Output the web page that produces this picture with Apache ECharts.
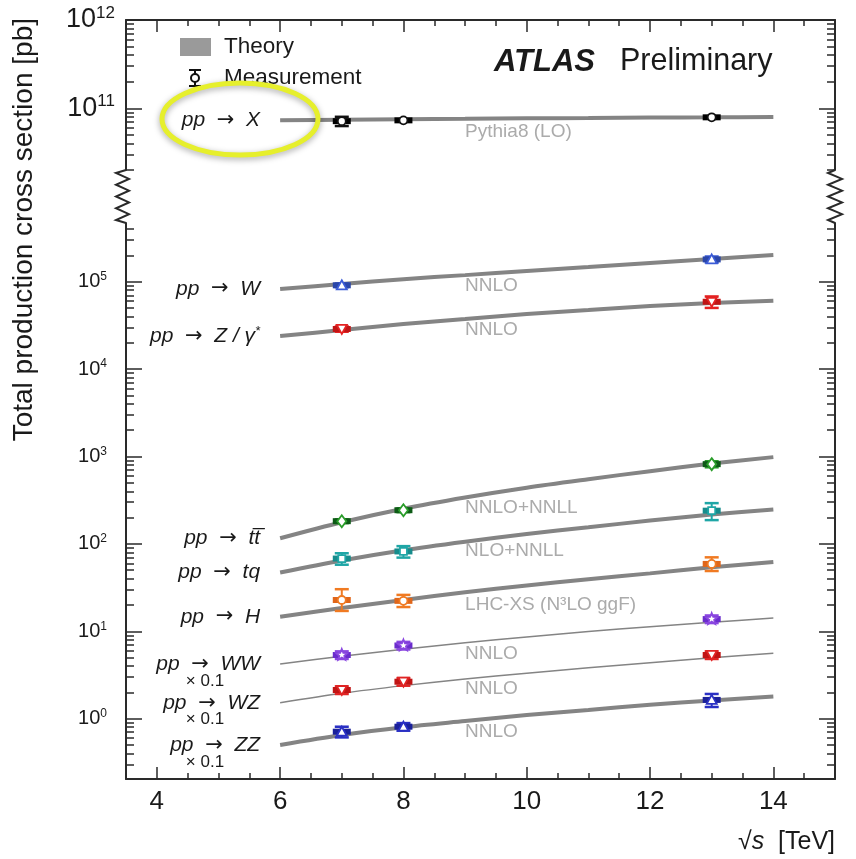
<!DOCTYPE html>
<html>
<head>
<meta charset="utf-8">
<script src="https://cdn.jsdelivr.net/npm/echarts@6/dist/echarts.min.js"></script>
<style>
  html, body { margin: 0; padding: 0; background: #fff; }
  #chart { width: 856px; height: 859px; }
</style>
</head>
<body>
<div id="chart"></div>
<script>
// sqrt(s) in TeV
const theoryEnergies = [6, 7, 8, 9, 10, 11, 12, 13, 14]
const measEnergies = [7, 8, 13]
const xTickValues = [4, 6, 8, 10, 12, 14]
const upperDecades = [11, 12]
const lowerDecades = [0, 1, 2, 3, 4, 5]

// cross sections in pb (WW, WZ, ZZ already scaled by 0.1)
const xTheory = [7.3e10, 7.4e10, 7.5e10, 7.6e10, 7.7e10, 7.75e10, 7.85e10, 7.9e10, 7.96e10]
const xMeas = [7.15e10, 7.3e10, 7.9e10]
const xErr = [0.12, 0.03, 0.03]

const wTheory = [8.25e4, 9.4e4, 1.07e5, 1.19e5, 1.33e5, 1.47e5, 1.64e5, 1.82e5, 2.02e5]
const wMeas = [9.1e4, null, 1.8e5]
const wErr = [0.05, null, 0.08]

const zTheory = [2.39e4, 2.8e4, 3.28e4, 3.74e4, 4.27e4, 4.74e4, 5.27e4, 5.71e4, 6.07e4]
const zMeas = [2.88e4, null, 5.9e4]
const zErr = [0.07, null, 0.15]

const ttTheory = [116, 177, 253, 340, 440, 550, 680, 832, 984]
const ttMeas = [182, 243, 818]
const ttErr = [0.05, 0.05, 0.08]

const tqTheory = [47, 64.6, 84.7, 106, 130, 155, 185, 217, 248]
const tqMeas = [68, 82, 240]
const tqErr = [0.15, 0.15, 0.22]

const hTheory = [14.7, 18.5, 22.8, 28, 33.5, 39.5, 46, 54, 62]
const hMeas = [22.8, 22.3, 59]
const hErrUp = [0.33, 0.17, 0.19]
const hErrDown = [0.25, 0.15, 0.17]

const wwTheory = [4.23, 5.18, 6.24, 7.4, 8.63, 9.93, 11.3, 12.7, 14.2]
const wwMeas = [5.36, 6.88, 13.8]
const wwErr = [0.1, 0.1, 0.1]

const wzTheory = [1.52, 1.95, 2.39, 2.85, 3.32, 3.82, 4.37, 4.98, 5.6]
const wzMeas = [2.13, 2.65, 5.36]
const wzErr = [0.1, 0.1, 0.1]

const zzTheory = [0.5, 0.65, 0.8, 0.94, 1.1, 1.26, 1.44, 1.62, 1.79]
const zzMeas = [0.71, 0.81, 1.64]
const zzErr = [0.14, 0.1, 0.17]

const FONT = '"Liberation Sans", Arial, Helvetica, sans-serif'
const INK = '#1a1a1a'
const THEORY_GREY = '#848484'

const processes = [
  { label: '{p|pp  }{a|→}{p|  X}', note: 'Pythia8 (LO)', theory: xTheory, meas: xMeas, up: xErr, down: xErr,
    color: '#111111', band: '#000000', marker: 'circle', upper: true, width: 4, noteGap: 3 },
  { label: '{p|pp  }{a|→}{p|  W}', note: 'NNLO', theory: wTheory, meas: wMeas, up: wErr, down: wErr,
    color: '#3b5bd6', band: '#2a46a8', marker: 'triUp', width: 4, noteGap: 1 },
  { label: '{p|pp  }{a|→}{p|  Z / γ}{sup|*}', note: 'NNLO', theory: zTheory, meas: zMeas, up: zErr, down: zErr,
    color: '#e42222', band: '#c01515', marker: 'triDown', width: 4, noteGap: 1 },
  { label: '{p|pp  }{a|→}{p|  tt\u0305}', note: 'NNLO+NNLL', theory: ttTheory, meas: ttMeas, up: ttErr, down: ttErr,
    color: '#2a9d2a', band: '#0d5a16', marker: 'diamond', width: 4, noteGap: 1 },
  { label: '{p|pp  }{a|→}{p|  tq}', note: 'NLO+NNLL', theory: tqTheory, meas: tqMeas, up: tqErr, down: tqErr,
    color: '#1fa6a6', band: '#168c8c', marker: 'square', width: 4, noteGap: 0 },
  { label: '{p|pp  }{a|→}{p|  H}', note: 'LHC-XS (N³LO ggF)', theory: hTheory, meas: hMeas, up: hErrUp, down: hErrDown,
    color: '#f07a22', band: '#e0661a', marker: 'circle', width: 4, noteGap: 3 },
  { label: '{p|pp  }{a|→}{p|  WW}\n{m|× 0.1}', note: 'NNLO', theory: wwTheory, meas: wwMeas, up: wwErr, down: wwErr,
    color: '#8a46e0', band: '#6a2ccc', marker: 'star', width: 1.5, noteGap: 2, twoLine: true },
  { label: '{p|pp  }{a|→}{p|  WZ}\n{m|× 0.1}', note: 'NNLO', theory: wzTheory, meas: wzMeas, up: wzErr, down: wzErr,
    color: '#e02424', band: '#c01515', marker: 'triDown', width: 1.5, noteGap: 0, twoLine: true },
  { label: '{p|pp  }{a|→}{p|  ZZ}\n{m|× 0.1}', note: 'NNLO', theory: zzTheory, meas: zzMeas, up: zzErr, down: zzErr,
    color: '#2a30c4', band: '#1a209a', marker: 'triUp', width: 4, noteGap: 1, twoLine: true }
]

const labelRich = {
  p: { fontSize: 21, fontStyle: 'italic', fontFamily: FONT, color: INK, lineHeight: 20 },
  a: { fontSize: 21, fontFamily: '"DejaVu Sans", sans-serif', color: INK, lineHeight: 20 },
  sup: { fontSize: 13, fontStyle: 'italic', fontFamily: FONT, color: INK, padding: [0, 0, 10, 0] },
  m: { fontSize: 17, fontFamily: FONT, color: INK, lineHeight: 13, padding: [0, 36, 0, 0] }
}

function markerShape(kind, cx, cy, color) {
  const style = { fill: '#ffffff', stroke: color, lineWidth: 1.8 }
  if (kind === 'circle') return { type: 'circle', shape: { cx, cy, r: 4 }, style }
  if (kind === 'square') return { type: 'rect', shape: { x: cx - 3.5, y: cy - 3.5, width: 7, height: 7 }, style }
  let pts
  if (kind === 'triUp') pts = [[cx, cy - 5], [cx + 5, cy + 4], [cx - 5, cy + 4]]
  else if (kind === 'triDown') pts = [[cx, cy + 5], [cx + 5, cy - 4], [cx - 5, cy - 4]]
  else if (kind === 'diamond') pts = [[cx, cy - 6], [cx + 4.5, cy], [cx, cy + 6], [cx - 4.5, cy]]
  else {
    pts = []
    for (let k = 0; k < 10; k++) {
      const r = k % 2 ? 2.6 : 6
      const a = -Math.PI / 2 + k * Math.PI / 5
      pts.push([cx + r * Math.cos(a), cy + r * Math.sin(a)])
    }
  }
  return { type: 'polygon', shape: { points: pts }, style }
}

function renderMeasurement(p) {
  return function (params, api) {
    const e = api.value(0)
    const c = api.coord([e, api.value(1)])
    const hi = api.coord([e, api.value(2)])
    const lo = api.coord([e, api.value(3)])
    const capW = 7
    const seg = (x1, y1, x2, y2, w) => ({
      type: 'line', shape: { x1, y1, x2, y2 }, style: { stroke: p.color, lineWidth: w }
    })
    return {
      type: 'group',
      children: [
        seg(c[0], hi[1], c[0], lo[1], 2),
        seg(c[0] - capW, hi[1], c[0] + capW, hi[1], 2.5),
        seg(c[0] - capW, lo[1], c[0] + capW, lo[1], 2.5),
        { type: 'rect', shape: { x: c[0] - 9, y: c[1] - 3, width: 18, height: 6 }, style: { fill: p.band } },
        markerShape(p.marker, c[0], c[1], p.color)
      ]
    }
  }
}

const series = []
processes.forEach(p => {
  const xi = p.upper ? 0 : 2
  const yi = p.upper ? 0 : 4
  series.push({
    type: 'line',
    xAxisIndex: xi,
    yAxisIndex: yi,
    smooth: 0.3,
    symbol: 'circle',
    symbolSize: 0,
    showSymbol: true,
    z: 2,
    lineStyle: { color: THEORY_GREY, width: p.width },
    itemStyle: { color: THEORY_GREY },
    emphasis: { disabled: true },
    data: theoryEnergies.map((e, i) => {
      const item = { value: [e, Math.log10(p.theory[i])] }
      if (i === 0) {
        item.label = {
          show: true, position: 'left', distance: 20,
          formatter: p.label, rich: labelRich,
          offset: p.twoLine ? [0, 7] : [0, 0]
        }
      } else if (e === 9) {
        item.label = {
          show: true, position: 'bottom', align: 'left', distance: p.noteGap,
          formatter: p.note, color: '#ababab', fontSize: 19, fontFamily: FONT
        }
      }
      return item
    })
  })
  const pts = []
  measEnergies.forEach((e, i) => {
    const v = p.meas[i]
    if (v == null) return
    pts.push([e, Math.log10(v), Math.log10(v * (1 + p.up[i])), Math.log10(v * (1 - p.down[i]))])
  })
  series.push({
    type: 'custom',
    xAxisIndex: xi,
    yAxisIndex: yi,
    z: 5,
    renderItem: renderMeasurement(p),
    encode: { x: 0, y: 1 },
    data: pts
  })
})

// ticks
const xMinorTicks = []
for (let v = 3.5; v <= 15; v += 0.5) if (v % 2 !== 0) xMinorTicks.push(v)
function minorLogTicks(fromExp, toExp) {
  const out = []
  for (let n = fromExp; n <= toExp; n++) {
    for (let k = 2; k <= 9; k++) out.push(Math.log10(k) + n)
  }
  return out
}

const frameLine = { show: true, onZero: false, lineStyle: { color: '#2a2a2a', width: 2 } }
const tickStyle = { color: '#2a2a2a', width: 1.5 }

function xAxisPair(gridIndex, position, withLabels) {
  return [
    {
      type: 'value', gridIndex, position, min: 3.5, max: 15,
      axisLine: frameLine,
      axisTick: { inside: true, length: 12, customValues: xTickValues, lineStyle: tickStyle },
      axisLabel: {
        show: withLabels, customValues: xTickValues, margin: 10,
        fontSize: 26, fontFamily: FONT, color: INK
      },
      splitLine: { show: false }
    },
    {
      type: 'value', gridIndex, position, min: 3.5, max: 15,
      axisLine: { show: false, onZero: false },
      axisTick: { inside: true, length: 6, customValues: xMinorTicks, lineStyle: tickStyle },
      axisLabel: { show: false, customValues: xMinorTicks },
      splitLine: { show: false }
    }
  ]
}

function yAxisPair(gridIndex, position, min, max, decades, minors, labelCfg) {
  return [
    {
      type: 'value', gridIndex, position, min, max,
      axisLine: frameLine,
      axisTick: { inside: true, length: 16, customValues: decades, lineStyle: tickStyle },
      axisLabel: labelCfg
        ? Object.assign({ show: true, customValues: decades, showMaxLabel: true, showMinLabel: true }, labelCfg)
        : { show: false, customValues: decades },
      splitLine: { show: false }
    },
    {
      type: 'value', gridIndex, position, min, max,
      axisLine: { show: false, onZero: false },
      axisTick: { inside: true, length: 8, customValues: minors, lineStyle: tickStyle },
      axisLabel: { show: false, customValues: minors },
      splitLine: { show: false }
    }
  ]
}

function powerLabel(base, sup, pad, margin) {
  return {
    margin,
    formatter: v => '{b|10}{s|' + Math.round(v) + '}',
    rich: {
      b: { fontSize: base, fontFamily: FONT, color: INK },
      s: { fontSize: sup, fontFamily: FONT, color: INK, padding: [0, 0, pad, 0] }
    }
  }
}

const upperMin = Math.log10(2e10)
const upperMax = 12
const lowerMin = -0.69
const lowerMax = 5.672

const xAxes = [].concat(
  xAxisPair(0, 'top', false),
  xAxisPair(1, 'bottom', true)
)
const yAxes = [].concat(
  yAxisPair(0, 'left', upperMin, upperMax, upperDecades, minorLogTicks(10, 11), powerLabel(27, 17, 14, 11)),
  yAxisPair(0, 'right', upperMin, upperMax, upperDecades, minorLogTicks(10, 11), null),
  yAxisPair(1, 'left', lowerMin, lowerMax, lowerDecades, minorLogTicks(-1, 5), powerLabel(20, 12, 10, 19)),
  yAxisPair(1, 'right', lowerMin, lowerMax, lowerDecades, minorLogTicks(-1, 5), null)
)

// axis break zigzags
function zigzag(x0, left, right) {
  const pts = [[x0, 170]]
  const steps = 10
  for (let k = 1; k < steps; k++) {
    pts.push([x0 + (k % 2 ? -left : right), 170 + 3 + (k - 1) * (47 / (steps - 2))])
  }
  pts.push([x0, 223])
  return pts
}

const graphics = [
  {
    type: 'polyline', shape: { points: zigzag(126, 10, 3) },
    style: { stroke: '#2a2a2a', lineWidth: 2, fill: null }
  },
  {
    type: 'polyline', shape: { points: zigzag(835, 7, 7) },
    style: { stroke: '#2a2a2a', lineWidth: 2, fill: null }
  },
  {
    type: 'text', x: 24, y: 18, rotation: Math.PI / 2,
    style: {
      text: 'Total production cross section [pb]', align: 'right', verticalAlign: 'middle',
      fontSize: 28, fontFamily: FONT, fill: INK
    }
  },
  {
    type: 'text', x: 835, y: 842,
    style: {
      text: '{i|√}{s|s}{n|  [TeV]}', align: 'right', verticalAlign: 'middle',
      rich: {
        i: { fontSize: 25, fontFamily: FONT, fill: INK },
        s: { fontSize: 25, fontStyle: 'italic', fontFamily: FONT, fill: INK },
        n: { fontSize: 25, fontFamily: FONT, fill: INK }
      }
    }
  },
  {
    type: 'text', x: 494, y: 62,
    style: { text: 'ATLAS', fontSize: 31, fontWeight: 'bold', fontStyle: 'italic', fontFamily: FONT, fill: INK, verticalAlign: 'middle' }
  },
  {
    type: 'text', x: 620, y: 62,
    style: { text: 'Preliminary', fontSize: 30.5, fontFamily: FONT, fill: INK, verticalAlign: 'middle' }
  },
  // legend
  { type: 'rect', shape: { x: 180, y: 38, width: 31, height: 18 }, style: { fill: '#9a9a9a' } },
  {
    type: 'text', x: 224, y: 47,
    style: { text: 'Theory', fontSize: 22.5, fontFamily: FONT, fill: INK, verticalAlign: 'middle' }
  },
  { type: 'line', shape: { x1: 195, y1: 70, x2: 195, y2: 86 }, style: { stroke: '#111', lineWidth: 2 } },
  { type: 'line', shape: { x1: 189, y1: 70, x2: 201, y2: 70 }, style: { stroke: '#111', lineWidth: 2 } },
  { type: 'line', shape: { x1: 189, y1: 86, x2: 201, y2: 86 }, style: { stroke: '#111', lineWidth: 2 } },
  { type: 'circle', shape: { cx: 195, cy: 78, r: 4 }, style: { fill: '#fff', stroke: '#111', lineWidth: 2 } },
  {
    type: 'text', x: 224, y: 78,
    style: { text: 'Measurement', fontSize: 22.5, fontFamily: FONT, fill: INK, verticalAlign: 'middle' }
  },
  // highlight around pp -> X
  {
    type: 'ellipse', z: 100,
    shape: { cx: 240, cy: 119, rx: 78, ry: 36 },
    style: {
      fill: 'transparent', stroke: '#e6ef2c', lineWidth: 5,
      shadowBlur: 6, shadowColor: 'rgba(0,0,0,0.35)', shadowOffsetY: 2
    }
  }
]

const chart = echarts.init(document.getElementById('chart'), null, { renderer: 'canvas' })
chart.setOption({
  animation: false,
  backgroundColor: '#ffffff',
  grid: [
    { left: 126, right: 21, top: 20, height: 150, containLabel: false, outerBoundsMode: 'none' },
    { left: 126, right: 21, top: 223, height: 556, containLabel: false, outerBoundsMode: 'none' }
  ],
  xAxis: xAxes,
  yAxis: yAxes,
  series: series,
  graphic: graphics
})
</script>
</body>
</html>
